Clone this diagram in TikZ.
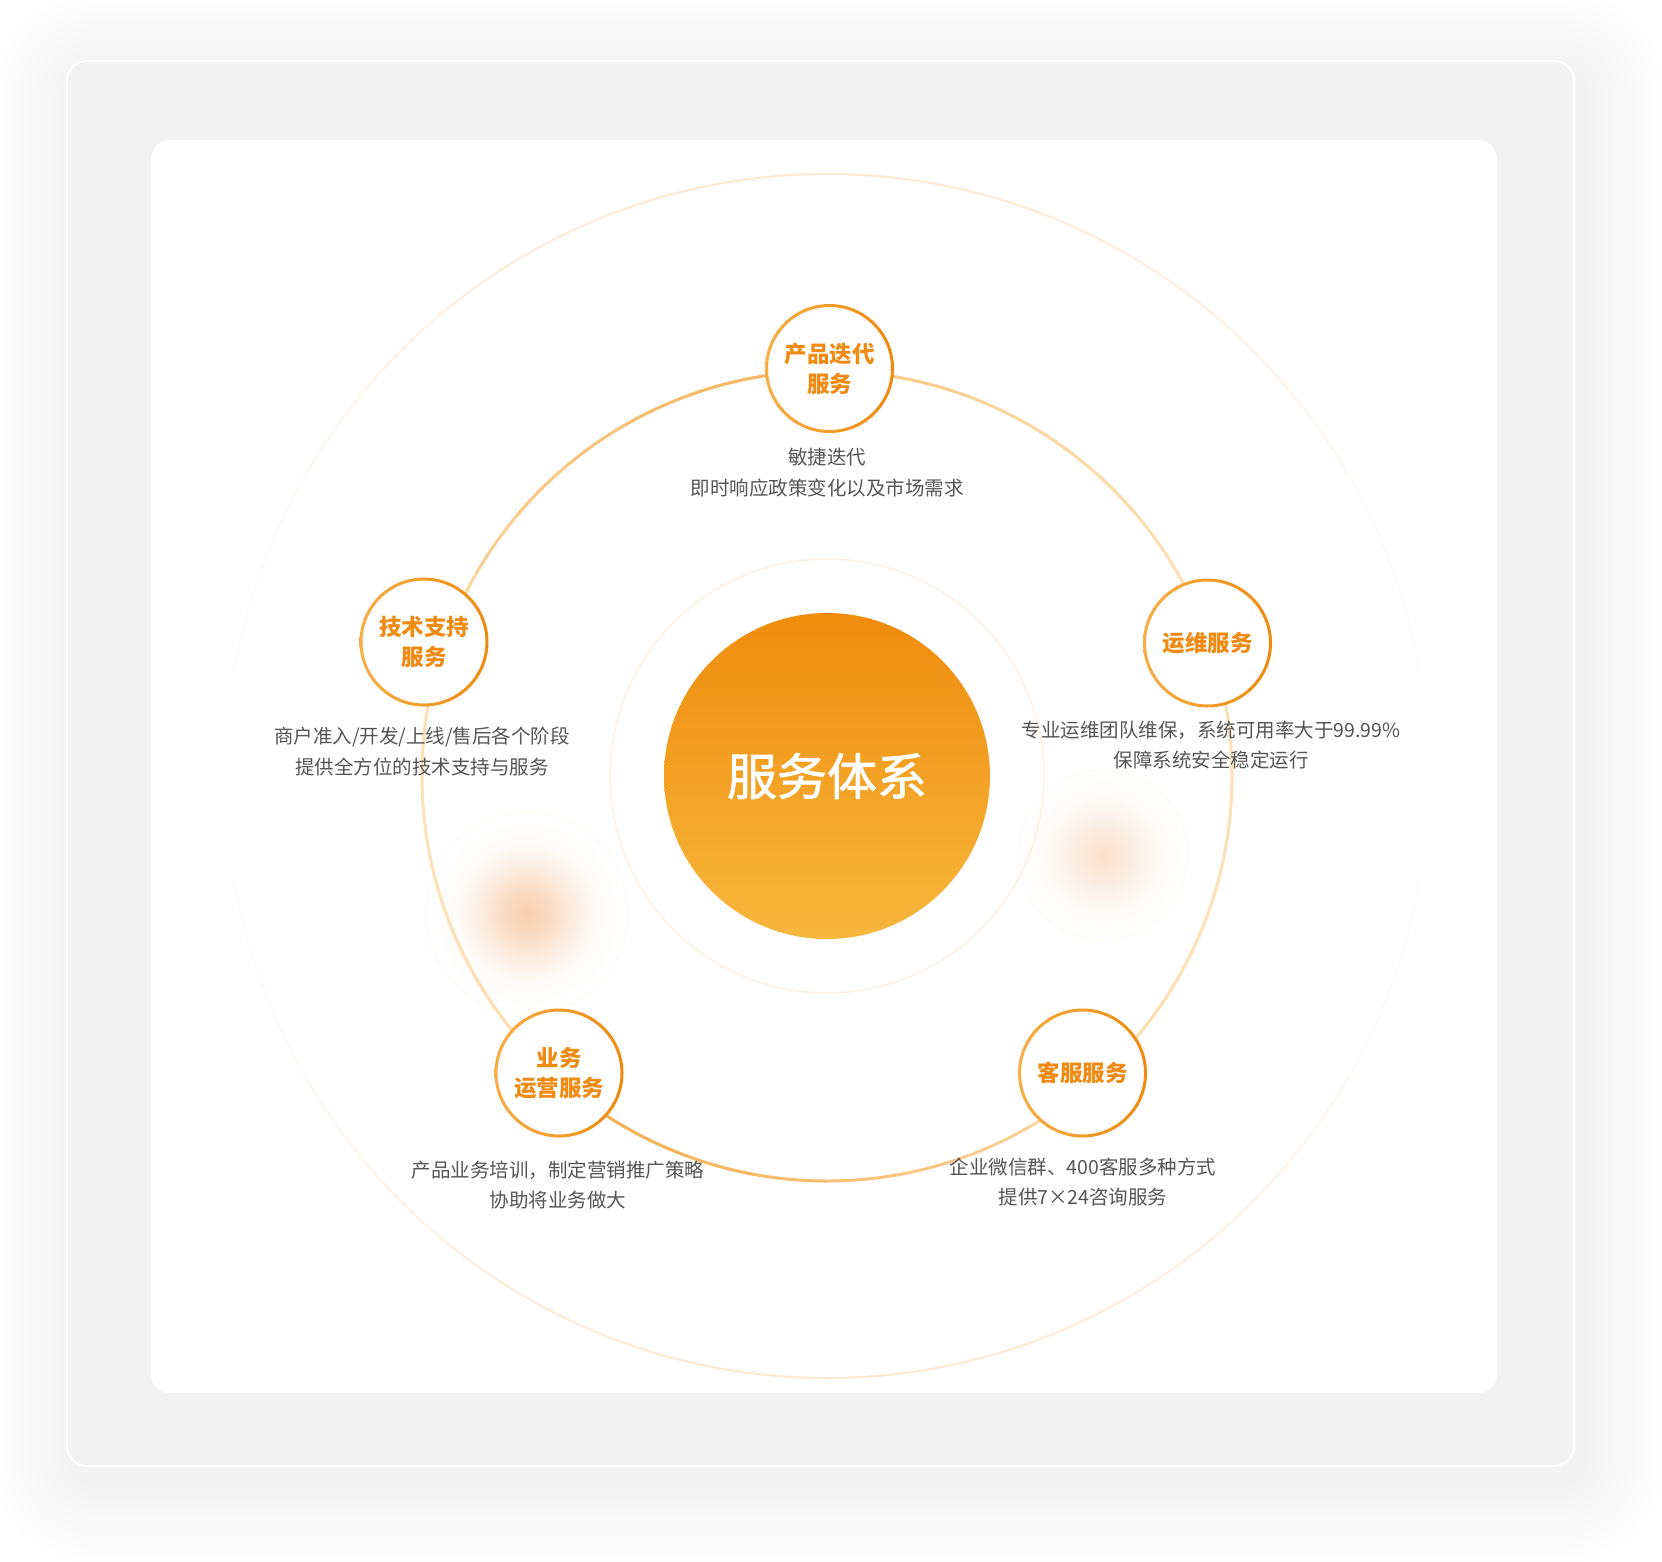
\documentclass[tikz,border=0pt]{standalone}
\usepackage{fontspec}
\setmainfont{Noto Sans CJK SC}
\newfontfamily\hubfont{Noto Sans CJK SC}[FakeBold=1.5]
\usetikzlibrary{calc}

\definecolor{cardgray}{HTML}{F2F2F2}
\definecolor{svctext}{HTML}{EF8A12}
\definecolor{notegray}{HTML}{555555}
\definecolor{orbdark}{HTML}{F4A944}
\definecolor{orbpale}{HTML}{FEE7C4}
\definecolor{ringpale}{HTML}{FDE9D2}
\definecolor{hubtop}{HTML}{EF8C0C}
\definecolor{hubbot}{HTML}{F7B73D}
\definecolor{ringL}{HTML}{F7AE45}
\definecolor{ringR}{HTML}{EE8A0E}
\definecolor{glowpeach}{HTML}{F7CFAE}
\colorlet{glowA}{glowpeach!75!white}
\colorlet{glowB}{glowpeach!38!white}
\colorlet{glowC}{glowpeach!10!white}

\pgfdeclareradialshading{glowshade}{\pgfpoint{0bp}{0bp}}{color(0bp)=(glowpeach); color(6bp)=(glowA); color(12bp)=(glowB); color(18bp)=(glowC); color(25bp)=(white); color(50bp)=(white)}

\begin{document}
\begin{tikzpicture}[x=1pt, y=1pt,
    svc/.style={circle, minimum size=126pt, inner sep=0pt, fill=white, text=svctext, align=center, font=\bfseries\fontsize{22.5}{30}\selectfont},
    note/.style={text=notegray, align=center, font=\fontsize{19.5}{30.5}\selectfont},
    hub/.style={circle, minimum size=326pt, inner sep=0pt, top color=hubtop, bottom color=hubbot, text=white, font=\hubfont\fontsize{50}{60}\selectfont},
    orbit/.style={line width=3pt},
    faintring/.style={line width=2pt, color=ringpale},
    glowring/.style={line width=1.2pt, color=ringpale!25!white}]

\useasboundingbox (0,0) rectangle (1662,-1561);
\fill[white] (0,0) rectangle (1662,-1561);

% soft shadow under the card
\foreach \i in {1,...,12}{
    \pgfmathsetmacro\g{7*\i}
    \fill[black, opacity=0.004, rounded corners=20pt+\g pt] (75-\g,-75+\g) rectangle (1582+\g,-1480-\g);
}
\fill[cardgray, draw=white, line width=2pt, rounded corners=20pt] (67,-61) rectangle (1574,-1466);
\fill[white, rounded corners=19pt] (151,-140) rectangle (1497,-1393);

\coordinate (ctr) at (827,-776);

% glows
\shade[shading=glowshade] (527,-913) circle (95);
\shade[shading=glowshade, opacity=0.6] (1103,-855) circle (85);
\draw[glowring] (527,-913) circle (101);
\draw[glowring] (1103,-855) circle (85);

% faint rings
\foreach \a in {0,10,...,350}{
    \pgfmathsetmacro\o{0.03+0.97*(sin(\a+5))^2}
    \draw[faintring, opacity=\o] ($(ctr)+(\a:602)$) arc[start angle=\a, end angle=\a+10, radius=602];
}
\draw[faintring, line width=1.5pt, opacity=0.6] (ctr) circle (217);

% orbit
\foreach \a/\p in {0/12,10/12,20/12,30/14,40/18,50/24,60/32,70/42,80/50,90/75,100/75,110/68,120/58,130/48,140/38,150/28,160/18,170/12,180/10,190/10,200/12,210/16,220/60,230/88,240/85,250/78,260/70,270/60,280/50,290/40,300/30,310/20,320/15,330/12,340/12,350/12}
    \draw[orbit, orbdark!\p!orbpale] ($(ctr)+(\a:405)$) arc[start angle=\a, end angle=\a+10, radius=405];

\node[hub] (core) at (ctr) {服务体系};

\node[svc] (prod) at (829.5,-368.5) {产品迭代\\服务};
\node[svc] (tech) at (424,-642) {技术支持\\服务};
\node[svc] (ops) at (1207.5,-643) {运维服务};
\node[svc] (biz) at (559,-1073) {业务\\运营服务};
\node[svc] (care) at (1082.5,-1073) {客服服务};

\foreach \n in {prod,tech,ops,biz,care}
    \shade[left color=ringL, right color=ringR, even odd rule] (\n.center) circle (64.5) circle (61.5);

\node[note] (prodnote) at (827,-472.5) {敏捷迭代\\即时响应政策变化以及市场需求};
\node[note] (technote) at (422,-751.5) {商户准入/开发/上线/售后各个阶段\\提供全方位的技术支持与服务};
\node[note] (opsnote) at (1211,-745) {专业运维团队维保，系统可用率大于99.99\%\\保障系统安全稳定运行};
\node[note] (biznote) at (558,-1185) {产品业务培训，制定营销推广策略\\协助将业务做大};
\node[note] (carenote) at (1083,-1182) {企业微信群、400客服多种方式\\提供7×24咨询服务};

\end{tikzpicture}
\end{document}
